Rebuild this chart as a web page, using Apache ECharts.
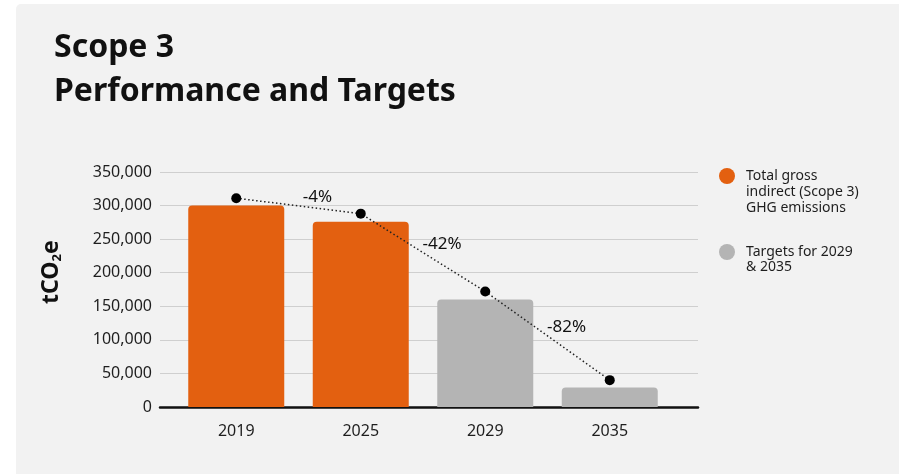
<!DOCTYPE html>
<html>
<head>
<meta charset="utf-8">
<script src="https://cdn.jsdelivr.net/npm/echarts@6/dist/echarts.min.js"></script>
<style>
  html, body { margin: 0; padding: 0; background: #fff; }
  #chart { width: 899px; height: 474px; }
</style>
</head>
<body>
<div id="chart"></div>
<script>
const categories = ['2019', '2025', '2029', '2035']
const emissions = [300000, 276000, 160000, 29000]
const isTarget = [false, false, true, true]
const trendValues = [311000, 288000, 172000, 40000]
const changeLabels = ['-4%', '-42%', '-82%']
const yTicks = [0, 50000, 100000, 150000, 200000, 250000, 300000, 350000]

const ORANGE = '#e36010'
const GREY = '#b4b4b4'
const TEXT = '#1e1e1e'
const FONT = '"Noto Sans", "Open Sans", sans-serif'

const chart = echarts.init(document.getElementById('chart'))

// labels sit at the middle of each trend segment
const labelPoints = changeLabels.map((txt, i) => ({
  value: [i + 0.5, (trendValues[i] + trendValues[i + 1]) / 2],
  label: { formatter: txt }
}))

const option = {
  animation: false,
  textStyle: { fontFamily: FONT },
  graphic: [
    {
      type: 'rect', z: -10, silent: true,
      shape: { x: 16, y: 4, width: 900, height: 480, r: 5 },
      style: { fill: '#f2f2f2' }
    },
    {
      type: 'text', left: 54, top: 32,
      style: { text: 'Scope 3', font: 'bold 32px ' + FONT, fill: '#111' }
    },
    {
      type: 'text', left: 54, top: 76,
      style: { text: 'Performance and Targets', font: 'bold 32px ' + FONT, fill: '#111' }
    },
    {
      type: 'text', x: 38, y: 304, rotation: Math.PI / 2,
      style: {
        text: '{a|tCO}{b|2}{a|e}',
        rich: {
          a: { fontSize: 23, fontWeight: 'bold', fontFamily: FONT, fill: '#111' },
          b: { fontSize: 13, fontWeight: 'bold', fontFamily: FONT, fill: '#111', padding: [13, 0, 0, 0] }
        }
      }
    },
    { type: 'circle', shape: { cx: 727, cy: 176, r: 8 }, style: { fill: ORANGE } },
    {
      type: 'text', x: 746, y: 168,
      style: { text: 'Total gross\nindirect (Scope 3)\nGHG emissions', font: '14px ' + FONT, lineHeight: 16, fill: TEXT }
    },
    { type: 'circle', shape: { cx: 727, cy: 252, r: 8 }, style: { fill: GREY } },
    {
      type: 'text', x: 746, y: 245,
      style: { text: 'Targets for 2029\n& 2035', font: '14px ' + FONT, lineHeight: 15, fill: TEXT }
    }
  ],
  grid: [
    { left: 160, right: 201, top: 172, bottom: 67 },
    { left: 174, right: 227, top: 172, bottom: 67 }
  ],
  xAxis: [
    {
      gridIndex: 0, type: 'value', min: 0, max: 1,
      axisLine: { show: true, lineStyle: { color: '#111', width: 2.5 } },
      axisTick: { show: false }, axisLabel: { show: false }, splitLine: { show: false }
    },
    {
      gridIndex: 1, type: 'category', data: categories,
      axisLine: { show: false }, axisTick: { show: false },
      axisLabel: { fontSize: 16, color: TEXT, margin: 16, fontFamily: FONT }
    },
    {
      gridIndex: 1, type: 'value', min: -0.5, max: 3.5, show: false
    }
  ],
  yAxis: [
    {
      gridIndex: 0, type: 'value', min: 0, max: 350000, interval: 50000,
      axisLine: { show: false }, axisTick: { show: false },
      axisLabel: {
        fontSize: 16, color: TEXT, margin: 8, fontFamily: FONT,
        formatter: v => yTicks.includes(v) ? v.toLocaleString('en-US') : ''
      },
      splitLine: { lineStyle: { color: '#cfcfcf', width: 1.2 } }
    },
    { gridIndex: 1, type: 'value', min: 0, max: 350000, show: false }
  ],
  series: [
    {
      type: 'bar', xAxisIndex: 1, yAxisIndex: 1, barWidth: 96,
      data: emissions.map((v, i) => ({
        value: v,
        itemStyle: { color: isTarget[i] ? GREY : ORANGE, borderRadius: [4, 4, 0, 0] }
      }))
    },
    {
      type: 'line', xAxisIndex: 1, yAxisIndex: 1, data: trendValues,
      symbol: 'circle', symbolSize: 10, z: 5,
      itemStyle: { color: '#000' },
      lineStyle: { color: '#222', width: 1.5, type: [1.5, 2.5] }
    },
    {
      type: 'scatter', xAxisIndex: 2, yAxisIndex: 1, symbolSize: 0, z: 6,
      data: labelPoints,
      itemStyle: { opacity: 1 },
      label: {
        show: true, position: 'top', distance: 0, offset: [19, 0],
        fontSize: 17, color: '#111', fontFamily: FONT
      },
      emphasis: { disabled: true }
    }
  ]
}

chart.setOption(option)
</script>
</body>
</html>
